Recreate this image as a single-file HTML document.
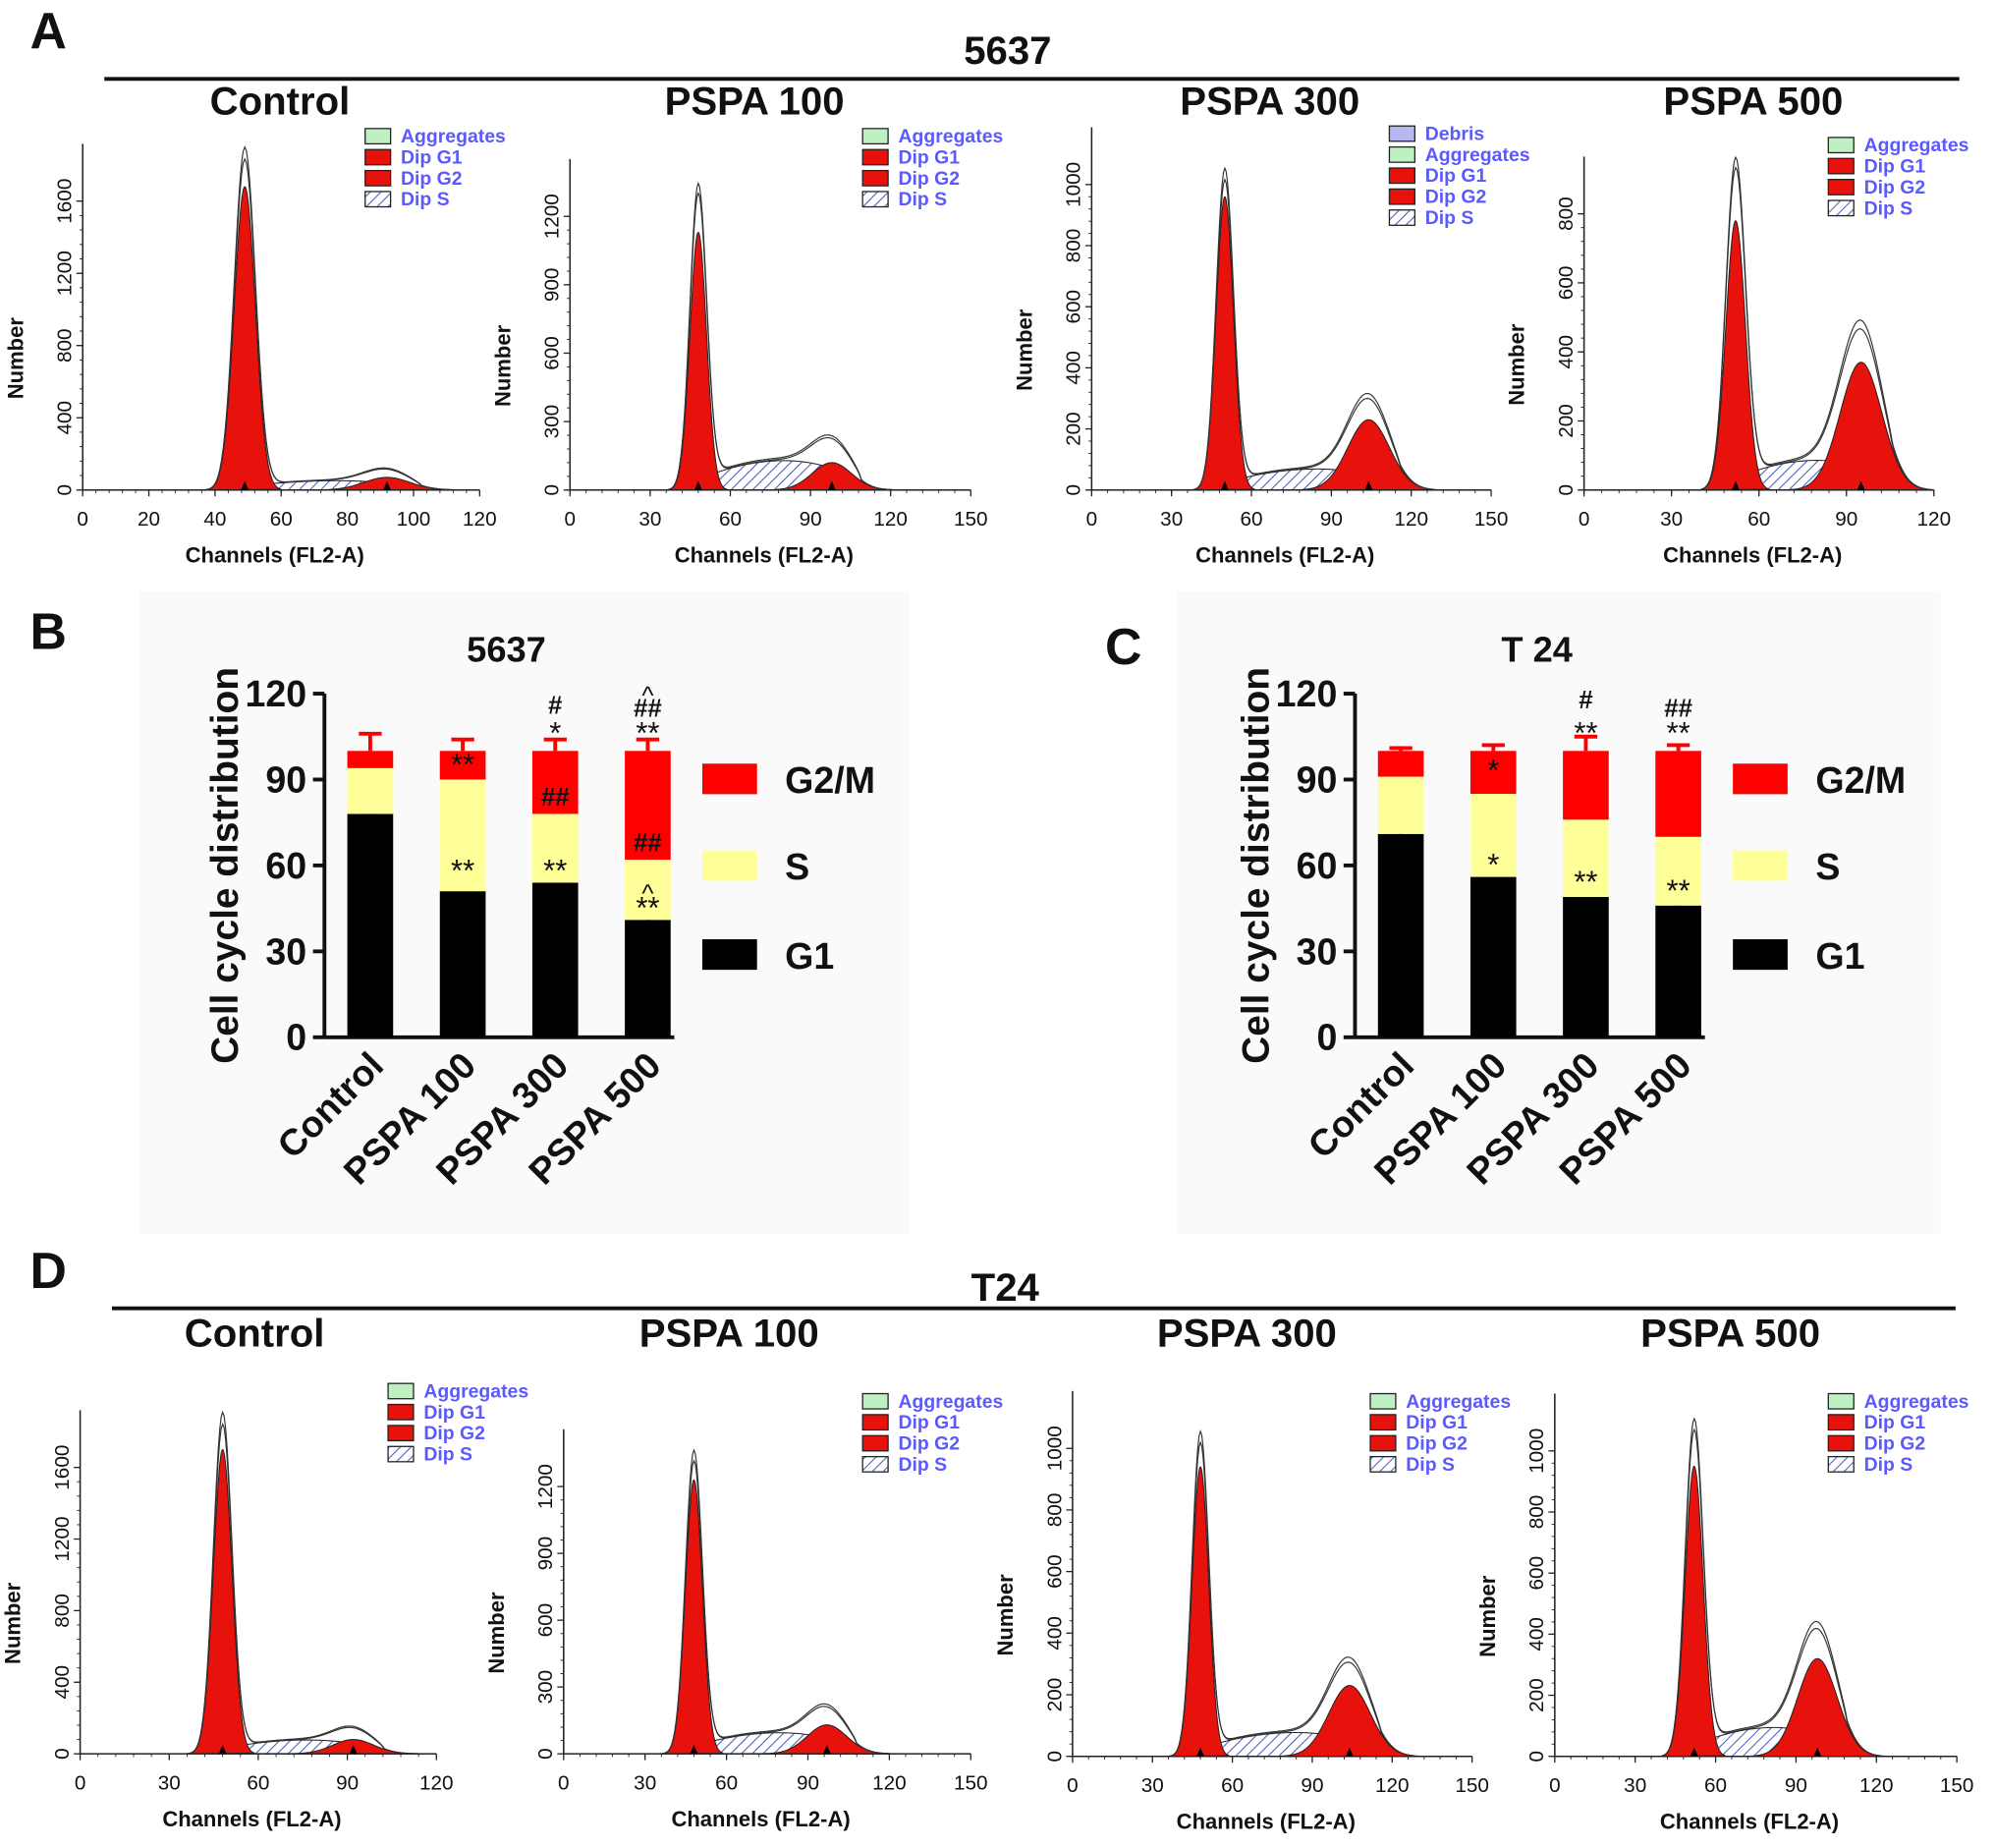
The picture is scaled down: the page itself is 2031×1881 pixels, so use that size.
<!DOCTYPE html>
<html><head><meta charset="utf-8"><style>
html,body{margin:0;padding:0;background:#fff}
svg{display:block}
text{font-family:"Liberation Sans",Arial,sans-serif}
</style></head><body>
<svg id="fig" width="2031" height="1881" viewBox="0 0 1568 1452" preserveAspectRatio="none" xmlns="http://www.w3.org/2000/svg">
<defs>
<pattern id="hatch" patternUnits="userSpaceOnUse" width="6" height="6" patternTransform="rotate(45)">
<rect width="6" height="6" fill="#fff"/><line x1="0" y1="0" x2="0" y2="6" stroke="#4a5bbf" stroke-width="1.6"/>
</pattern>
</defs>
<rect x="110" y="465" width="605" height="505" fill="#fafafa"/>
<rect x="925" y="465" width="600" height="505" fill="#fafafa"/>
<g id="root"></g>
</svg>
<script>
const NS='http://www.w3.org/2000/svg';
const root=document.getElementById('root');
function el(tag,attrs,parent,txt){const e=document.createElementNS(NS,tag);for(const k in attrs)e.setAttribute(k,attrs[k]);if(txt!==undefined)e.textContent=txt;(parent||root).appendChild(e);return e;}

// ---------- Histogram data ----------
const histTitles=['Control','PSPA 100','PSPA 300','PSPA 500'];
const aXmax=[120,150,150,120];
const aYmax=[1600,1200,1000,800];
const aYstep=[400,300,200,200];
const aG1mean=[49,48,50,52];
const aG1peak=[1680,1130,960,780];
const aG2mean=[92,98,104,95];
const aG2peak=[70,120,230,370];
const aSlevel=[60,150,80,100];
const aTotalPeak=[1880,1300,1030,930];
const dXmax=[120,150,150,150];
const dYmax=[1600,1200,1000,1000];
const dYstep=[400,300,200,200];
const dG1mean=[48,48,48,52];
const dG1peak=[1700,1230,940,950];
const dG2mean=[92,97,104,98];
const dG2peak=[80,130,230,320];
const dSlevel=[90,110,90,110];
const dTotalPeak=[1880,1330,1030,1070];

const aLayout=[{x0:65,x1:377,yb:385,yt:158},{x0:448,x1:763,yb:385,yt:170},{x0:858,x1:1172,yb:385,yt:145},{x0:1245,x1:1520,yb:385,yt:168}];
const dLayout=[{x0:63,x1:343,yb:1378,yt:1153},{x0:443,x1:763,yb:1378,yt:1168},{x0:843,x1:1157,yb:1380,yt:1138},{x0:1222,x1:1538,yb:1380,yt:1140}];
const aTitleX=[220,593,998,1378];
const dTitleX=[200,573,980,1360];

function hist(L,xmax,ymax,ystep,g1m,g1p,g2m,g2p,sl,tp,titleX,titleY,legendItems,lx,ly,name){
  const g=el('g',{});
  
  
  const X=v=>L.x0+(L.x1-L.x0)*v/xmax;
  const Y=v=>L.yb-(L.yb-L.yt)*v/ymax;
  const sd1=g1m*0.065, sd2=g2m*0.075;
  const g1=c=>g1p*Math.exp(-((c-g1m)**2)/(2*sd1*sd1));
  const g2=c=>g2p*Math.exp(-((c-g2m)**2)/(2*sd2*sd2));
  const sa=g1m-1.5*sd1, sb=g2m+1.5*sd2;
  const s=c=>{ if(c<sa||c>sb) return 0; const t=(c-sa)/(sb-sa); return sl*Math.pow(Math.sin(Math.PI*t),0.6)*(0.7+0.3*t);};
  let p='M'+X(sa)+','+Y(0);
  for(let c=sa;c<=sb;c+=0.5)p+=' L'+X(c)+','+Y(s(c));
  p+=' L'+X(sb)+','+Y(0)+'Z';
  const sp=el('path',{d:p,fill:'url(#hatch)',stroke:'#222','stroke-width':0.8},g);
  
  [[g1,g1m,sd1,'dip-g1-peak'],[g2,g2m,sd2,'dip-g2-peak']].forEach(([f,m,sd,nm])=>{
    let d='M'+X(m-3.5*sd)+','+Y(0);
    for(let c=m-3.5*sd;c<=m+3.5*sd;c+=0.25)d+=' L'+X(c)+','+Y(f(c));
    d+=' Z';
    const pk=el('path',{d:d,fill:'#e8120c',stroke:'#222','stroke-width':0.8},g);
    
  });
  const ratio=tp/Math.max(1,g1p);
  for(let k=0;k<2;k++){
    let d='';
    for(let c=g1m-12;c<=g2m+3.2*sd2;c+=0.5){
      let v=g1(c)*(ratio-(k*0.04))+g2(c)*(1.08+k*0.06)+s(c)*(1.02+k*0.05);
      d+=(d?' L':'M')+X(c)+','+Y(v);
    }
    const ln=el('path',{d:d,fill:'none',stroke:'#333','stroke-width':0.9},g);
    
  }
  el('line',{x1:L.x0,y1:L.yb,x2:L.x1,y2:L.yb,stroke:'#222','stroke-width':1.2},g);
  el('line',{x1:L.x0,y1:L.yb,x2:L.x0,y2:L.yt-45,stroke:'#222','stroke-width':1.2},g);
  const xstep=xmax===120?(L===aLayout[0]?20:30):30;
  for(let v=0;v<=xmax;v+=xstep){
    el('line',{x1:X(v),y1:L.yb,x2:X(v),y2:L.yb+5,stroke:'#222'},g);
    const t=el('text',{x:X(v),y:L.yb+28,'font-size':16,'text-anchor':'middle',fill:'#111'},g,v);
    
  }
  for(let v=0;v<=xmax;v+=xstep/5)el('line',{x1:X(v),y1:L.yb,x2:X(v),y2:L.yb+2.5,stroke:'#222','stroke-width':0.7},g);
  for(let v=0;v<=ymax;v+=ystep){
    el('line',{x1:L.x0-5,y1:Y(v),x2:L.x0,y2:Y(v),stroke:'#222'},g);
    const t=el('text',{x:L.x0-9,y:Y(v),'font-size':16,'text-anchor':'middle',fill:'#111',transform:`rotate(-90 ${L.x0-9} ${Y(v)})`},g,v);
    
  }
  for(let v=0;v<=ymax;v+=ystep/5)el('line',{x1:L.x0-2.5,y1:Y(v),x2:L.x0,y2:Y(v),stroke:'#222','stroke-width':0.7},g);
  [g1m,g2m].forEach(m=>el('path',{d:`M${X(m)-3},${L.yb} L${X(m)+3},${L.yb} L${X(m)},${L.yb-7}Z`,fill:'#000'},g));
  const xl=el('text',{x:(L.x0+L.x1)/2-5,y:L.yb+57,'font-size':17,'font-weight':'bold','text-anchor':'middle',fill:'#111'},g,'Channels (FL2-A)');
  
  const yx=L.x0-47,yy=(L.yb+L.yt)/2+10;
  const yl=el('text',{x:yx,y:yy,'font-size':17,'font-weight':'bold','text-anchor':'middle',fill:'#111',transform:`rotate(-90 ${yx} ${yy})`},g,'Number');
  
  const tt=el('text',{x:titleX,y:titleY,'font-size':31,'font-weight':'bold','text-anchor':'middle',fill:'#111'},g,name.includes('control')?'Control':histTitles[name.slice(-1)*1]);
  
  legendItems.forEach((it,i)=>{
    const y=ly+i*16.5;
    const fill=it==='Aggregates'?'#bff0c4':it==='Debris'?'#b8b8f0':it==='Dip S'?'url(#hatch)':'#e8120c';
    el('rect',{x:lx,y:y-11,width:20,height:12,fill:fill,stroke:'#222','stroke-width':1},g);
    const lt=el('text',{x:lx+28,y:y,'font-size':15,'font-weight':'bold',fill:'#5a5aff'},g,it);
    
  });
}
const L4=['Aggregates','Dip G1','Dip G2','Dip S'];
const aLeg=[[287,112],[678,112],[1092,110],[1437,119]];
const dLeg=[[305,1098],[678,1106],[1077,1106],[1437,1106]];
for(let i=0;i<4;i++){
  hist(aLayout[i],aXmax[i],aYmax[i],aYstep[i],aG1mean[i],aG1peak[i],aG2mean[i],aG2peak[i],aSlevel[i],aTotalPeak[i],aTitleX[i],90,i===2?['Debris'].concat(L4):L4,aLeg[i][0],aLeg[i][1],i===0?'hist-5637-control0':'hist-5637-'+i);
  hist(dLayout[i],dXmax[i],dYmax[i],dYstep[i],dG1mean[i],dG1peak[i],dG2mean[i],dG2peak[i],dSlevel[i],dTotalPeak[i],dTitleX[i],1058,L4,dLeg[i][0],dLeg[i][1],i===0?'hist-t24-control0':'hist-t24-'+i);
}
function txt(x,y,s,size,name,extra){const t=el('text',Object.assign({x:x,y:y,'font-size':size,'font-weight':'bold','text-anchor':'middle',fill:'#111'},extra||{}),root,s);return t;}
txt(38,38,'A',40,'panel-label-a');txt(38,510,'B',40,'panel-label-b');txt(883,522,'C',40,'panel-label-c');txt(38,1012,'D',40,'panel-label-d');
txt(792,50,'5637',31,'group-title-5637');txt(790,1022,'T24',31,'group-title-t24');
el('line',{x1:82,y1:62,x2:1540,y2:62,stroke:'#111','stroke-width':3});
el('line',{x1:88,y1:1028,x2:1537,y2:1028,stroke:'#111','stroke-width':3});

// ---------- Bar chart data ----------
const barCats=['Control','PSPA 100','PSPA 300','PSPA 500'];
const bG1=[78,51,54,41], bG1err=[6,5,4,3];
const bS=[16,39,24,21], bSerr=[2,5,2,2];
const bG2=[6,10,22,38], bG2err=[6,4,4,4];
const cG1=[71,56,49,46], cG1err=[10,2,2,1];
const cS=[20,29,27,24], cSerr=[3,4,2,2];
const cG2=[9,15,24,30], cG2err=[1,2,5,2];
const bAnn=[[],[['**',60],['**',97]],[['**',60],['##',84],['*',108],['#',116]],[['**',47],['^',54],['##',68],['**',108],['##',115],['^',123]]];
const cAnn=[[],[['*',62],['*',95]],[['**',56],['**',108],['#',118]],[['**',53],['**',108],['##',115]]];
const yTicks=[0,30,60,90,120];

function bars(ox,x1,title,G1,G1e,S,Se,G2,G2e,ann,name){
  const g=el('g',{});
  const yb=815,yt=545;
  const Y=v=>yb-(yb-yt)*v/120;
  const bw=36, cx=i=>ox+36+i*72.7;
  el('line',{x1:ox,y1:yb,x2:x1,y2:yb,stroke:'#111','stroke-width':3},g);
  el('line',{x1:ox,y1:yb,x2:ox,y2:yt,stroke:'#111','stroke-width':3},g);
  yTicks.forEach(v=>{
    el('line',{x1:ox-9,y1:Y(v),x2:ox,y2:Y(v),stroke:'#111','stroke-width':3},g);
    const t=el('text',{x:ox-14,y:Y(v)+10,'font-size':29,'font-weight':'bold','text-anchor':'end',fill:'#111'},g,v);
    
  });
  const yl=el('text',{x:ox-68,y:680,'font-size':30,'font-weight':'bold','text-anchor':'middle',fill:'#111',transform:`rotate(-90 ${ox-68} 680)`},g,'Cell cycle distribution');
  
  const tt=el('text',{x:ox+143,y:520,'font-size':28,'font-weight':'bold','text-anchor':'middle',fill:'#111'},g,title);
  
  barCats.forEach((c,i)=>{
    const x=cx(i)-bw/2;
    const segs=[[0,G1[i],G1e[i],'#000'],[G1[i],S[i],Se[i],'#ffff99'],[G1[i]+S[i],G2[i],G2e[i],'#ff0000']];
    segs.forEach(([b,h,e,col],k)=>{
      const top=b+h;
      const ec=k===0?'#000':col;
      el('line',{x1:cx(i),y1:Y(top),x2:cx(i),y2:Y(top+e),stroke:ec,'stroke-width':3},g);
      el('line',{x1:cx(i)-9,y1:Y(top+e),x2:cx(i)+9,y2:Y(top+e),stroke:ec,'stroke-width':3},g);
      const r=el('rect',{x:x,y:Y(top),width:bw,height:Y(b)-Y(top),fill:col},g);
      
      
    });
    ann[i].forEach(([s,v])=>{
      const star=s.startsWith('*'), caret=s==='^';
      const size=star?24:20;
      const off=star?size*0.5:caret?size*0.75:size*0.35;
      const a=el('text',{x:cx(i),y:Y(v)+off,'font-size':size,'font-weight':s.startsWith('#')?'bold':'normal','text-anchor':'middle',fill:'#111'},g,s);
      });
    const lx=cx(i)+12,ly=yb+24;
    const lab=el('text',{x:lx,y:ly,'font-size':29,'font-weight':'bold','text-anchor':'end',fill:'#111',transform:`rotate(-45 ${lx} ${ly})`},g,c);
    
  });
  [['G2/M','#ff0000',612],['S','#ffff99',680],['G1','#000',750]].forEach(([l,col,y])=>{
    const r=el('rect',{x:x1+22,y:y-12,width:43,height:24,fill:col},g);
    
    const t=el('text',{x:x1+87,y:y+11,'font-size':29,'font-weight':'bold',fill:'#111'},g,l);
    
  });
}
bars(255,530,'5637',bG1,bG1err,bS,bSerr,bG2,bG2err,bAnn,'bar-chart-5637');
bars(1065,1340,'T 24',cG1,cG1err,cS,cSerr,cG2,cG2err,cAnn,'bar-chart-t24');
</script>
</body></html>
